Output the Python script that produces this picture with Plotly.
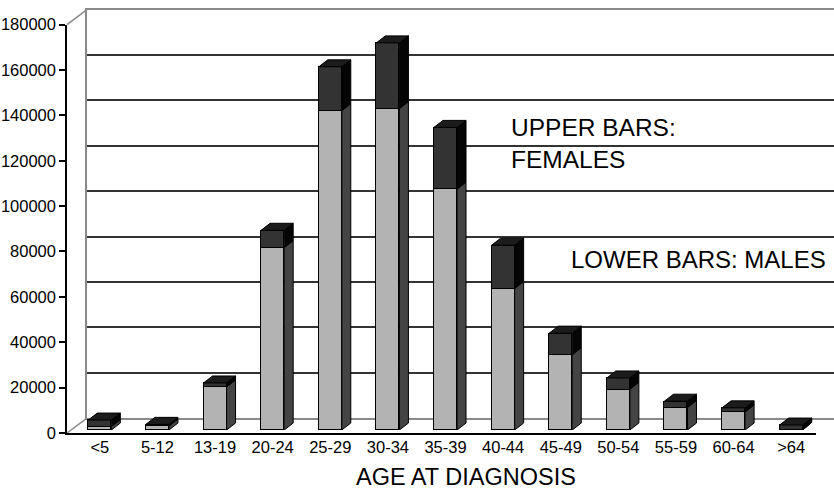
import plotly.graph_objects as go

# ---- data ----
age_groups = ["<5", "5-12", "13-19", "20-24", "25-29", "30-34", "35-39",
              "40-44", "45-49", "50-54", "55-59", "60-64", ">64"]
males = [1500, 1750, 19000, 80400, 140800, 141700, 106200,
         62400, 33200, 18000, 9950, 8000, 300]
females = [2900, 750, 1750, 7650, 19300, 28950, 27200,
           19060, 9500, 4950, 2770, 1780, 1900]
y_ticks = [0, 20000, 40000, 60000, 80000, 100000, 120000, 140000, 160000, 180000]

# ---- style / geometry ----
W, H = 834, 493
ML, MR, MT, MB = 67, 0, 7, 60
PW, PH = W - ML - MR, H - MT - MB          # plot area 767 x 426
FRONT_W = 749                               # px width of front axis
FRONT_H = 410.3                             # px height of 0..180000
YMAX = 180000
BAR_W = 0.40                                # category units
DEPTH_DX = 9 / (FRONT_W / len(age_groups))  # bar depth in category units
DEPTH_DY = 7 * YMAX / FRONT_H               # bar depth in value units
FONT = "Liberation Sans, Arial, Helvetica, sans-serif"

C_MALE, C_MALE_SIDE = "#b3b3b3", "#444444"
C_FEM, C_FEM_SIDE, C_TOP = "#333333", "#050505", "#1c1c1c"
WALL = "#8a8a8a"

n = len(age_groups)
xs = list(range(n))
totals = [m + f for m, f in zip(males, females)]
xr = [-0.5, n - 0.5]

fig = go.Figure()

# back wall subplot (drawn first)
fig.add_trace(go.Scatter(x=[None], y=[None], xaxis="x", yaxis="y", showlegend=False, hoverinfo="skip"))

# front faces (stacked bars)
fig.add_trace(go.Bar(x=xs, y=males, width=BAR_W, marker=dict(color=C_MALE, line=dict(color="black", width=1)),
                     hoverinfo="skip", name="Males", xaxis="x2", yaxis="y2"))
fig.add_trace(go.Bar(x=xs, y=females, width=BAR_W, marker=dict(color=C_FEM, line=dict(color="black", width=1)),
                     hoverinfo="skip", name="Females", xaxis="x2", yaxis="y2"))


def faces(kind):
    px, py = [], []
    for i, m, t in zip(xs, males, totals):
        l, r = i - BAR_W / 2, i + BAR_W / 2
        if kind == "top":
            pts = [(l, t), (l + DEPTH_DX, t + DEPTH_DY), (r + DEPTH_DX, t + DEPTH_DY), (r, t), (l, t)]
        elif kind == "male_side":
            pts = [(r, 0), (r + DEPTH_DX, DEPTH_DY), (r + DEPTH_DX, m + DEPTH_DY), (r, m), (r, 0)]
        else:
            pts = [(r, m), (r + DEPTH_DX, m + DEPTH_DY), (r + DEPTH_DX, t + DEPTH_DY), (r, t), (r, m)]
        for a, b in pts:
            px.append(a)
            py.append(b)
        px.append(None)
        py.append(None)
    return px, py


for kind, col in [("male_side", C_MALE_SIDE), ("fem_side", C_FEM_SIDE), ("top", C_TOP)]:
    fx, fy = faces(kind)
    fig.add_trace(go.Scatter(x=fx, y=fy, mode="lines", fill="toself", fillcolor=col,
                             line=dict(color="black", width=1), hoverinfo="skip",
                             showlegend=False, xaxis="x2", yaxis="y2"))

# front frame subplot
fig.add_trace(go.Scatter(x=[None], y=[None], xaxis="x3", yaxis="y3", showlegend=False, hoverinfo="skip"))

fig.update_layout(
    width=W, height=H,
    margin=dict(l=ML, r=MR, t=MT, b=MB, pad=0),
    paper_bgcolor="white", plot_bgcolor="rgba(0,0,0,0)",
    barmode="stack", bargap=0, showlegend=False,
    font=dict(family=FONT, color="black", size=16),
    # back wall
    xaxis=dict(domain=[20 / PW, 1], range=[0, 1], anchor="y",
               showline=True, mirror=True, linecolor=WALL, linewidth=1.5,
               showgrid=False, zeroline=False, showticklabels=False, ticks=""),
    yaxis=dict(domain=[15 / PH, (15 + FRONT_H) / PH], range=[0, YMAX], anchor="x",
               showline=True, linecolor=WALL, linewidth=1.5,
               tickvals=y_ticks[1:-1], showgrid=True, gridcolor="#333333", gridwidth=1.5,
               zeroline=False, showticklabels=False, ticks=""),
    # bars (shifted slightly into depth)
    xaxis2=dict(domain=[4 / PW, (4 + FRONT_W) / PW], range=xr, anchor="y2", tickvals=xs, ticktext=age_groups,
                showline=False, showgrid=False, zeroline=False, ticks="", ticklabelstandoff=5,
                tickfont=dict(size=16.5, family=FONT)),
    yaxis2=dict(domain=[3 / PH, (3 + FRONT_H) / PH], range=[0, YMAX], anchor="x2", visible=False, showgrid=False),
    # front frame axes
    xaxis3=dict(domain=[0, FRONT_W / PW], range=xr, anchor="y3",
                showline=True, linecolor="black", linewidth=1.5, showgrid=False, zeroline=False,
                showticklabels=False, ticks=""),
    yaxis3=dict(domain=[0, FRONT_H / PH], range=[0, YMAX], anchor="x3",
                showline=True, linecolor="black", linewidth=1.5, showgrid=False, zeroline=False,
                tickvals=y_ticks, ticktext=[str(v) for v in y_ticks], ticks="outside", ticklen=6,
                tickcolor="black", tickwidth=1.5, tickfont=dict(size=16.5, family=FONT)),
    shapes=[
        dict(type="line", xref="paper", yref="paper", x0=0, y0=0, x1=20 / PW, y1=15 / PH,
             line=dict(color=WALL, width=1.5), layer="below"),
        dict(type="line", xref="paper", yref="paper", x0=0, y0=FRONT_H / PH, x1=20 / PW, y1=(FRONT_H + 15) / PH,
             line=dict(color=WALL, width=1.5), layer="below"),
    ],
    annotations=[
        dict(text="UPPER BARS:<br>FEMALES", xref="paper", yref="paper", x=(509 - ML) / PW, y=(433 - 142) / PH,
             xanchor="left", yanchor="middle", align="left", showarrow=False,
             font=dict(size=24.5, family=FONT, color="black")),
        dict(text="LOWER BARS: MALES", xref="paper", yref="paper", x=(569 - ML) / PW, y=(433 - 259) / PH,
             xanchor="left", yanchor="middle", align="left", showarrow=False,
             font=dict(size=24, family=FONT, color="black")),
        dict(text="AGE AT DIAGNOSIS", xref="paper", yref="paper", x=(466 - ML) / PW, y=(433 - 477) / PH,
             xanchor="center", yanchor="middle", showarrow=False,
             font=dict(size=23.5, family=FONT, color="black")),
    ],
)

fig.write_html("out.html")
